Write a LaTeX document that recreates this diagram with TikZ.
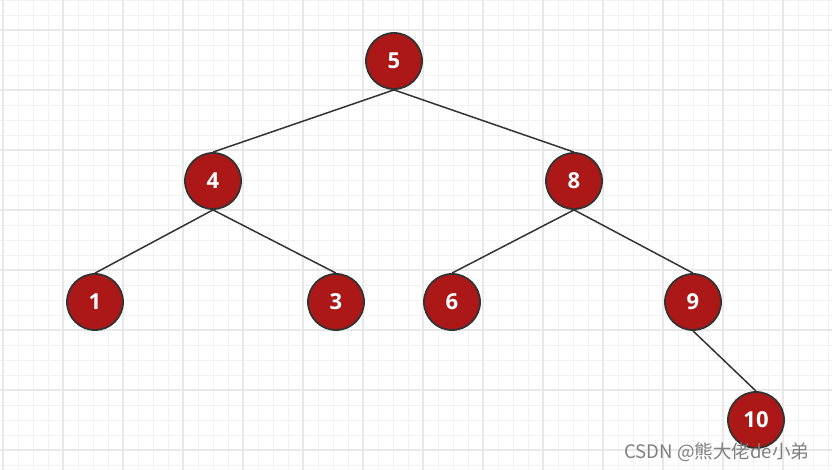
\documentclass[tikz,border=0pt]{standalone}
\usepackage{fontspec}
\setmainfont{Open Sans}
\newfontfamily\cjkfont{Noto Sans CJK SC}
\usepackage{xcolor}
\usetikzlibrary{positioning}

\definecolor{nodered}{HTML}{AC1717}
\definecolor{rimgray}{HTML}{333333}
\definecolor{minorgrid}{HTML}{F2F2F2}
\definecolor{majorgrid}{HTML}{E8E8E8}

\begin{document}
\begin{tikzpicture}
  [
    x=1pt,y=-1pt,
    key/.style={circle,draw=rimgray,fill=nodered,line width=1.8pt,inner sep=0pt,
      minimum size=56pt,text=white,font=\fontsize{22}{22}\selectfont\bfseries},
    branch/.style={draw=rimgray,line width=1.5pt},
    thin grid/.style={draw=minorgrid,line width=0.9pt},
    thick grid/.style={draw=majorgrid,line width=1.1pt}
  ]
  \useasboundingbox (0,0) rectangle (832,470);
  \fill[white] (0,0) rectangle (832,470);
  % background grid
  \foreach \x in {3,18,...,831}
    \draw[thin grid] (\x,0) -- (\x,470);
  \foreach \y in {0,15,...,470}
    \draw[thin grid] (0,\y) -- (832,\y);
  \foreach \x in {3,63,...,831}
    \draw[thick grid] (\x,0) -- (\x,470);
  \foreach \y in {30,90,...,470}
    \draw[thick grid] (0,\y) -- (832,\y);

  % the tree
  \node[key] (root) at (394,61) {5};
  \node[key] (left) at (213,181) {4};
  \node[key] (right) at (574,181) {8};
  \node[key] (one) at (95,302) {1};
  \node[key] (three) at (336,302) {3};
  \node[key] (six) at (452,302) {6};
  \node[key] (nine) at (693,302) {9};
  \node[key] (ten) at (756,420) {10};

  \draw[branch] (root.south) -- (left.north);
  \draw[branch] (root.south) -- (right.north);
  \draw[branch] (left.south) -- (one.north);
  \draw[branch] (left.south) -- (three.north);
  \draw[branch] (right.south) -- (six.north);
  \draw[branch] (right.south) -- (nine.north);
  \draw[branch] (nine.south) -- (ten.north);

  \node[anchor=base west,text=black!50,inner sep=0pt,
    font=\cjkfont\fontsize{18.6}{18.6}\selectfont] (mark) at (624,458) {CSDN @熊大佬de小弟};
\end{tikzpicture}
\end{document}
